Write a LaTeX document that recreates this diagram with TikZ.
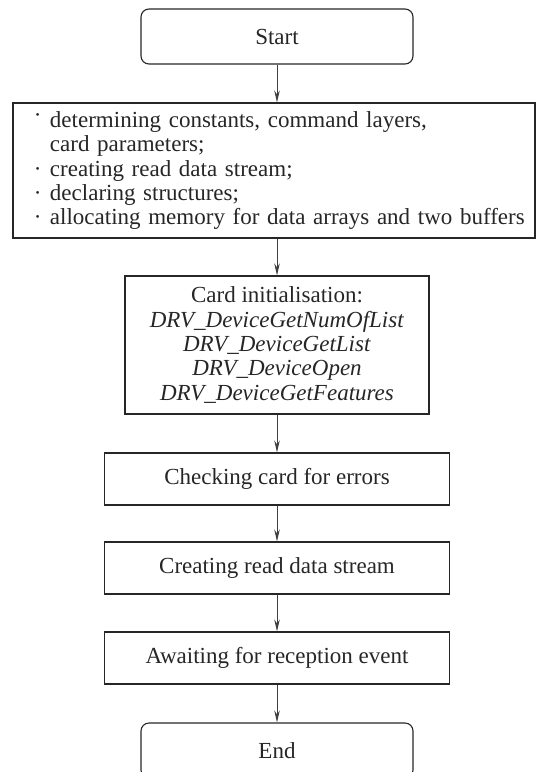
\documentclass[tikz,border=0pt]{standalone}
\usepackage{fontspec}
\setmainfont{Liberation Serif}
\usetikzlibrary{arrows.meta}
\tikzset{
  box/.style={draw=black!85, line width=1.1pt, inner sep=0pt, font=\fontsize{23}{24.3}\selectfont, text=black!85},
  term/.style={box, rounded corners=8pt},
  arr/.style={draw=black!75, line width=1pt, -{Stealth[length=12pt,width=5.5pt]}},
}
\newcommand{\bul}{\makebox[32pt][l]{\hspace{16pt}\textperiodcentered}}
\begin{document}
\begin{tikzpicture}[x=1pt,y=-1pt]
\useasboundingbox (0,0) rectangle (537,772);
\clip (0,0) rectangle (537,772);
\node[term, minimum width=272pt, minimum height=55pt] (start) at (277,36.5) {Start};
\node[box, minimum width=522pt, minimum height=135pt, text width=512pt, align=left] (prep) at (274,170.5)
  {\makebox[32pt][l]{\hspace{16pt}\raisebox{5pt}{\textperiodcentered}}determining constants, command layers,\\
   \hspace*{32pt}card parameters;\\
   \bul creating read data stream;\\
   \bul declaring structures;\\
   \bul allocating memory for data arrays and two buffers};
\node[box, minimum width=304pt, minimum height=138pt, align=center] (init) at (277,345)
  {Card initialisation:\\
   \textit{DRV\_DeviceGetNumOfList}\\
   \textit{DRV\_DeviceGetList}\\
   \textit{DRV\_DeviceOpen}\\
   \textit{DRV\_DeviceGetFeatures}};
\node[box, minimum width=345pt, minimum height=52pt] (check) at (277,479) {Checking card for errors};
\node[box, minimum width=345pt, minimum height=52pt] (create) at (277,568) {Creating read data stream};
\node[box, minimum width=345pt, minimum height=52pt] (await) at (277,658) {Awaiting for reception event};
\node[term, minimum width=272pt, minimum height=55pt] (end) at (277,750.5) {End};
\draw[arr] (start.south) -- (start.south |- prep.north);
\draw[arr] (prep.south -| init.north) -- (init.north);
\draw[arr] (init.south) -- (check.north);
\draw[arr] (check.south) -- (create.north);
\draw[arr] (create.south) -- (await.north);
\draw[arr] (await.south) -- (end.north);
\end{tikzpicture}
\end{document}
